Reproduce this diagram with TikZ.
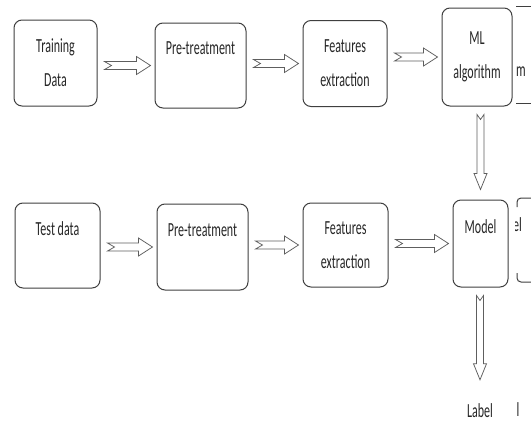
\documentclass[tikz,border=0pt]{standalone}
\usepackage{fontspec}
\setmainfont{Carlito}[FakeStretch=0.6]
\usepackage{xcolor}
\usepackage{tikz}
\usetikzlibrary{calc}
\definecolor{boxgray}{HTML}{3F3F3F}
\definecolor{arrgray}{HTML}{5E5E5E}
\definecolor{txtgray}{HTML}{262626}

% hollow notched arrows between two stages
\newcommand{\hflow}[2]{%
  \draw[flow] let \p1=($(#1.east |- #2.west)+(7pt,0)$), \p2=($(#2.west)+(-4pt,0)$) in
    (\x1,\y1+4pt) -- (\x2-14pt,\y1+4pt) -- (\x2-14pt,\y1+9pt) -- (\x2,\y1)
    -- (\x2-14pt,\y1-9pt) -- (\x2-14pt,\y1-4pt) -- (\x1,\y1-4pt) -- (\x1+7pt,\y1) -- cycle;}
\newcommand{\vflow}[3]{%
  \draw[flow] let \p1=($(#1.south -| #2.north)+(0,-8pt)$), \p2=($(#2.north)+(0,#3)$) in
    (\x1-3.5pt,\y1) -- (\x1-3.5pt,\y2+16pt) -- (\x1-6.5pt,\y2+16pt) -- (\x1,\y2)
    -- (\x1+6.5pt,\y2+16pt) -- (\x1+3.5pt,\y2+16pt) -- (\x1+3.5pt,\y1) -- (\x1,\y1-5pt) -- cycle;}

\begin{document}
\begin{tikzpicture}[x=1pt, y=-1pt,
  stage/.style={draw=boxgray, line width=1pt, rounded corners=8pt, inner sep=0pt,
    align=center, text=txtgray, font=\fontsize{20}{34}\selectfont,
    execute at begin node=\rule{0pt}{25pt}},
  flow/.style={draw=arrgray, line width=0.75pt, fill=white},
  frag/.style={draw=boxgray, line width=1pt},
  fragtext/.style={text=txtgray, inner sep=0pt, font=\fontsize{20}{34}\selectfont}]
\useasboundingbox (0,0) rectangle (531,424);
\clip (0,0) rectangle (531,424);

% training row
\node[stage, minimum width=83, minimum height=86] (trainData) at (55.5,63) {Training\\Data};
\node[stage, minimum width=91, minimum height=85] (trainPre) at (200.5,65.5) {Pre-treatment\\\mbox{}};
\node[stage, minimum width=84, minimum height=86] (trainFeat) at (345,63.5) {Features\\extraction};
\node[stage, minimum width=70, minimum height=98] (mlAlgo) at (477,57) {ML\\algorithm};

% test row
\node[stage, minimum width=85, minimum height=85] (testData) at (57.5,245.5) {Test data\\\mbox{}};
\node[stage, minimum width=91, minimum height=86] (testPre) at (202.5,247) {Pre-treatment\\\mbox{}};
\node[stage, minimum width=85, minimum height=84] (testFeat) at (345.5,245) {Features\\extraction};
\node[stage, minimum width=55, minimum height=87] (model) at (480.5,243.5) {Model\\\mbox{}};
\node[fragtext] (label) at (480,411) {Label};

\hflow{trainData}{trainPre}
\hflow{trainPre}{trainFeat}
\hflow{trainFeat}{mlAlgo}
\hflow{testData}{testPre}
\hflow{testPre}{testFeat}
\hflow{testFeat}{model}
\vflow{mlAlgo}{model}{10pt}
\vflow{model}{label}{24pt}

% cut-off bits at the right edge
\draw[frag] (516,6) -- (533,6);
\draw[frag] (516,103) -- (533,103);
\node[fragtext] (cutM) at (521,72) {m};
\draw[frag, rounded corners=4pt] (533,198) -- (517,198) -- (517,207);
\draw[frag, rounded corners=4pt] (517,273) -- (517,282) -- (533,282);
\begin{scope}
\clip (515,205) rectangle (531,260);
\node[fragtext, anchor=east] (cutEl) at (522,225) {el};
\end{scope}
\node[fragtext] (cutL) at (518,410) {l};
\end{tikzpicture}
\end{document}
